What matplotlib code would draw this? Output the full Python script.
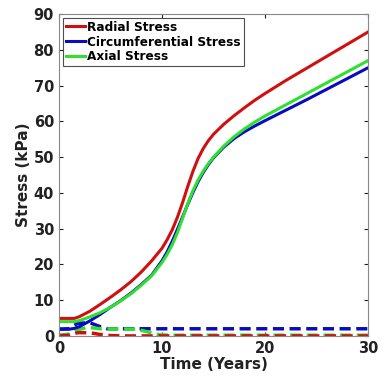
import matplotlib
matplotlib.use("Agg")
import matplotlib.pyplot as plt

years = [0, 1, 1.5, 2, 3, 4, 5, 6, 7, 8, 9, 10, 10.5, 11, 11.5, 12, 12.5, 13, 13.5, 14, 14.5, 15,
         16, 17, 18, 19, 20, 22, 24, 26, 28, 30]
radial = [4.9, 4.9, 4.9, 5.4, 6.9, 8.8, 10.8, 12.9, 15.2, 17.9, 21, 24.5, 26.9, 29.7, 33.2, 37.3, 41.8, 46, 49.6, 52.4, 54.6, 56.4,
          59.2, 61.6, 63.8, 65.9, 67.8, 71.4, 74.8, 78.2, 81.6, 85]
circumferential = [1.9, 1.9, 2.1, 2.6, 4.2, 6.0, 8.0, 9.9, 12, 14.4, 17, 21, 23.5, 26.5, 29.8, 33.3, 36.8, 40.1, 43.1, 45.7, 47.9, 49.8,
                   52.8, 55.2, 57.1, 58.7, 60.2, 63.1, 66, 69, 72, 75]
axial = [4.0, 4.0, 4.0, 4.3, 5.3, 6.5, 8.0, 9.8, 11.8, 14.2, 16.8, 20.5, 22.8, 25.5, 28.9, 32.9, 37, 40.6, 43.6, 46.1, 48.2, 50,
         53.1, 55.7, 57.9, 59.8, 61.5, 64.6, 67.7, 70.8, 73.9, 77]

t_circ_d = [0, 1, 1.8, 3, 3.8, 4.7, 30]
circumferential_d = [1.9, 2.0, 3.5, 3.7, 2.8, 2.0, 2.0]
t_axial_d = [0, 1, 1.8, 2.8, 4, 7.5, 8.5, 9.8, 11, 30]
axial_d = [0.2, 0.5, 1.7, 2.4, 2.0, 1.9, 1.2, 0.3, 0.2, 0.2]
t_radial_d = [0, 1, 1.8, 3, 4, 5, 6, 30]
radial_d = [0, 0.2, 0.9, 0.9, 0.4, 0.1, 0, 0]

red = '#d01010'
blue = '#0a0ac0'
green = '#30e030'

plt.rcParams['font.family'] = 'DejaVu Sans'
plt.rcParams['font.weight'] = 'bold'
fig = plt.figure(figsize=(3.9, 3.8), dpi=100)
ax = fig.add_axes([0.151, 0.116, 0.793, 0.847])

dash = (0, (3.2, 1.6))
ax.plot(t_circ_d, circumferential_d, color=blue, lw=2.5, ls=dash)
ax.plot(t_axial_d, axial_d, color=green, lw=2.5, ls=dash)
ax.plot(t_radial_d, radial_d, color=red, lw=2.5, ls=dash)
l1, = ax.plot(years, radial, color=red, lw=2.2, label='Radial Stress')
l2, = ax.plot(years, circumferential, color=blue, lw=2.2, label='Circumferential Stress')
l3, = ax.plot(years, axial, color=green, lw=2.2, label='Axial Stress')

ax.set_xlim(0, 30)
ax.set_ylim(0, 90)
ax.set_xticks([0, 10, 20, 30])
ax.set_yticks(range(0, 91, 10))
ax.tick_params(direction='in', top=True, right=True, labelsize=10.5, colors='#222222', length=3)
for lab in ax.get_xticklabels() + ax.get_yticklabels():
    lab.set_fontweight('bold')
for s in ax.spines.values():
    s.set_color('#888888')
ax.set_xlabel('Time (Years)', fontsize=11, fontweight='bold', color='#222222', labelpad=1)
ax.set_ylabel('Stress (kPa)', fontsize=11, fontweight='bold', color='#222222', labelpad=2)

leg = ax.legend(handles=[l1, l2, l3], loc='upper left', fontsize=8.7, frameon=True, fancybox=False,
                handlelength=1.6, handletextpad=0.2, borderpad=0.25, labelspacing=0.15,
                borderaxespad=0.3)
leg.get_frame().set_edgecolor('#222222')
leg.get_frame().set_linewidth(0.8)
for tx in leg.get_texts():
    tx.set_fontweight('bold')

fig.savefig('out.png', dpi=100)
